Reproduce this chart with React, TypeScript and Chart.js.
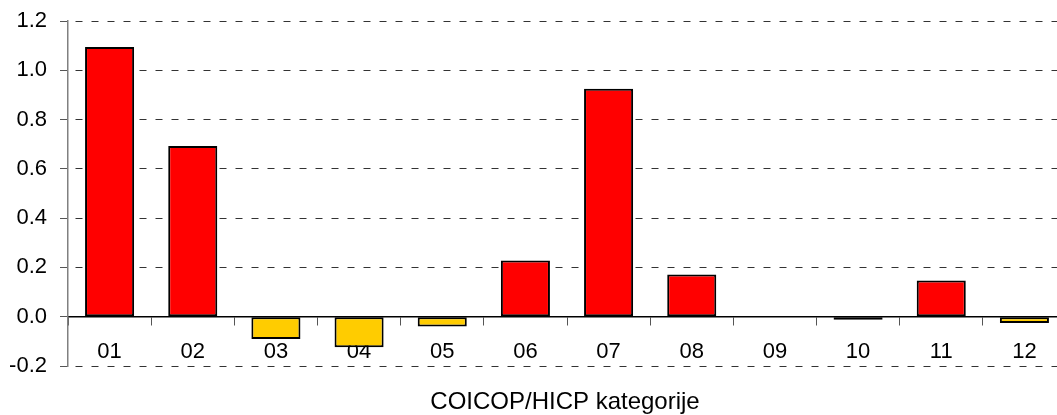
import React, { useEffect, useRef } from "react";
import { Chart, registerables } from "chart.js";

Chart.register(...registerables);

const categories = ["01", "02", "03", "04", "05", "06", "07", "08", "09", "10", "11", "12"];
const values = [1.094, 0.693, -0.09, -0.124, -0.04, 0.228, 0.925, 0.171, 0, -0.012, 0.147, -0.025];
const yTicks = [-0.2, 0, 0.2, 0.4, 0.6, 0.8, 1.0, 1.2];
const axisTitle = "COICOP/HICP kategorije";

const POS_COLOR = "#FF0000";
const NEG_COLOR = "#FFCC00";
const FONT = "'Liberation Sans', Arial, sans-serif";

const titlePlugin = {
  id: "bottomTitle",
  afterDraw(chart: any) {
    const { ctx, chartArea } = chart;
    ctx.save();
    ctx.font = `24px ${FONT}`;
    ctx.fillStyle = "#000";
    ctx.textAlign = "center";
    ctx.textBaseline = "alphabetic";
    ctx.fillText(axisTitle, (chartArea.left + chartArea.right) / 2 - 2, 409);
    ctx.restore();
  },
};

export default function App() {
  const ref = useRef<HTMLCanvasElement | null>(null);

  useEffect(() => {
    if (!ref.current) return;
    const chart = new Chart(ref.current, {
      type: "bar",
      data: {
        labels: categories,
        datasets: [
          {
            data: values,
            backgroundColor: values.map((v) => (v >= 0 ? POS_COLOR : NEG_COLOR)),
            borderColor: "#000",
            borderWidth: 2,
            borderSkipped: false,
            barPercentage: 0.59,
            categoryPercentage: 1,
          },
        ],
      },
      options: {
        animation: false,
        responsive: false,
        maintainAspectRatio: false,
        layout: { padding: { left: 0, right: 14, top: 21, bottom: 49 } },
        plugins: {
          legend: { display: false },
          tooltip: { enabled: false },
          title: { display: false },
        },
        scales: {
          x: {
            type: "category",
            position: { y: 0 } as any,
            offset: true,
            afterFit: (s: any) => {
              s.height = 0;
            },
            grid: {
              offset: true,
              drawOnChartArea: false,
              drawTicks: true,
              tickLength: 8,
              tickColor: "#555",
              tickWidth: 1,
            },
            border: { display: true, color: "#000", width: 1.5 },
            ticks: {
              color: "#000",
              font: { family: FONT, size: 22 },
              padding: 14,
              maxRotation: 0,
              autoSkip: false,
            },
          },
          y: {
            type: "linear",
            min: -0.2,
            max: 1.2,
            afterFit: (s: any) => {
              s.width = 68;
              s.paddingTop = 0;
              s.paddingBottom = 0;
            },
            afterBuildTicks: (s: any) => {
              s.ticks = yTicks.map((v) => ({ value: v }));
            },
            grid: {
              color: (ctx: any) =>
                ctx.tick && Math.abs(ctx.tick.value) < 1e-9 ? "rgba(0,0,0,0)" : "#333",
              lineWidth: 1,
              drawTicks: true,
              tickLength: 8,
              tickColor: "#555",
            },
            border: { display: true, color: "#808080", width: 1.5, dash: [7, 9], dashOffset: 9 },
            ticks: {
              color: "#000",
              font: { family: FONT, size: 22 },
              padding: 13,
              callback: (v: any) => Number(v).toFixed(1),
            },
          },
        },
      },
      plugins: [titlePlugin],
    });
    return () => chart.destroy();
  }, []);

  return (
    <div
      style={{
        position: "fixed",
        left: 0,
        top: 0,
        width: 1057,
        height: 415,
        overflow: "hidden",
        background: "#fff",
      }}
    >
      <canvas ref={ref} width={1080} height={415} style={{ display: "block" }} />
    </div>
  );
}
